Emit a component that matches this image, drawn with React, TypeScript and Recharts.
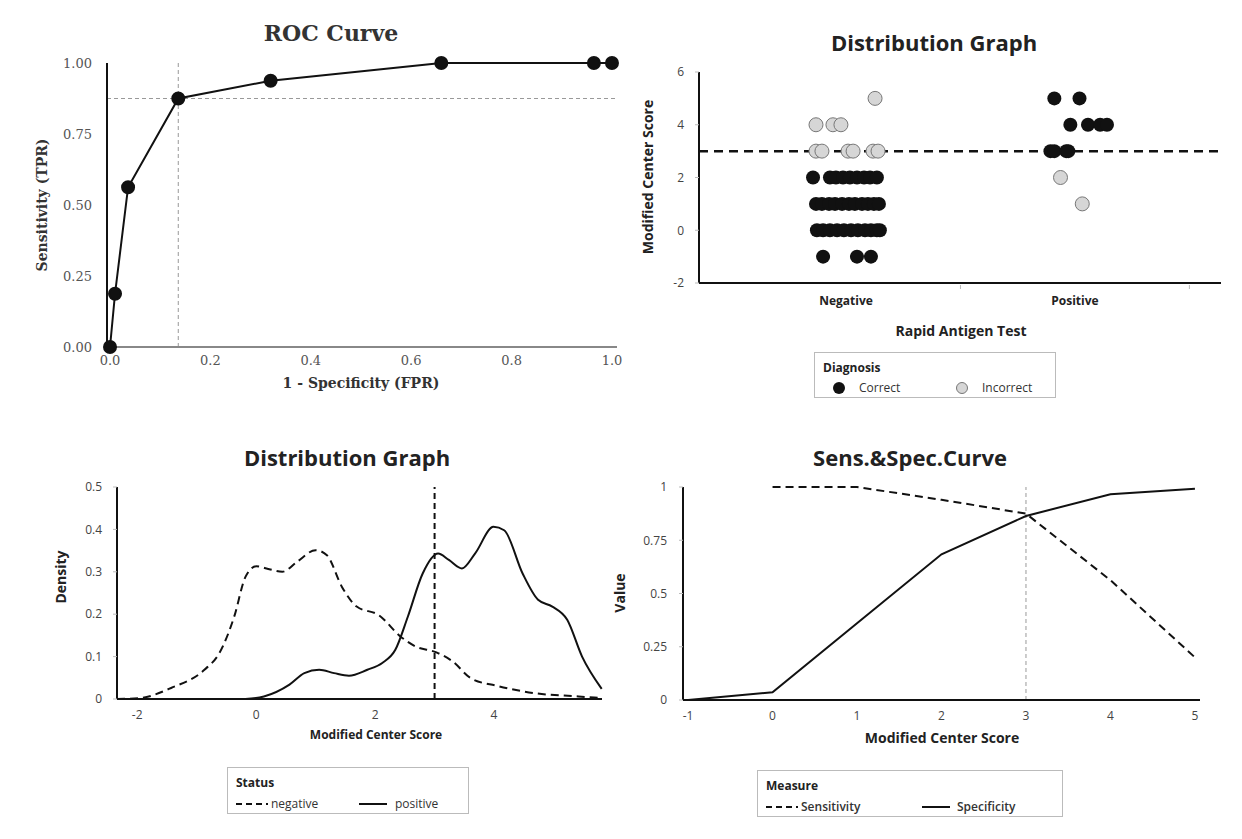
import React from 'react';
import { LineChart, Line, XAxis, YAxis, ReferenceLine, ScatterChart, Scatter } from 'recharts';

const SANS = '"Open Sans", "DejaVu Sans", sans-serif';
const SERIF = '"DejaVu Serif", serif';

// ROC curve
const rocFpr = [0, 0.01, 0.036, 0.136, 0.32, 0.66, 0.964, 1];
const rocTpr = [0, 0.1875, 0.5625, 0.875, 0.9375, 1, 1, 1];
const rocXTicks = [0, 0.2, 0.4, 0.6, 0.8, 1];
const rocYTicks = [0, 0.25, 0.5, 0.75, 1];
const cutFpr = 0.136;
const cutTpr = 0.875;

// distribution (dot) graph: [jitter within category, score]
const testCategories = ['Negative', 'Positive'];
const scoreTicks = [-2, 0, 2, 4, 6];
const cutScore = 3;
const negativeCorrect: [number, number][] = [
  [-0.144, 2], [-0.07, 2], [-0.044, 2], [-0.013, 2], [0.017, 2], [0.048, 2], [0.079, 2], [0.105, 2], [0.135, 2],
  [-0.131, 1], [-0.105, 1], [-0.074, 1], [-0.048, 1], [-0.017, 1], [0.013, 1], [0.039, 1], [0.07, 1], [0.096, 1], [0.122, 1], [0.144, 1],
  [-0.127, 0], [-0.1, 0], [-0.07, 0], [-0.039, 0], [-0.009, 0], [0.022, 0], [0.052, 0], [0.083, 0], [0.109, 0], [0.135, 0], [0.148, 0],
  [-0.1, -1], [0.048, -1], [0.109, -1],
];
const negativeIncorrect: [number, number][] = [
  [0.127, 5],
  [-0.131, 4], [-0.057, 4], [-0.022, 4],
  [-0.131, 3], [-0.105, 3], [0.009, 3], [0.031, 3], [0.118, 3], [0.14, 3],
];
const positiveCorrect: [number, number][] = [
  [-0.09, 5], [0.02, 5],
  [-0.02, 4], [0.057, 4], [0.11, 4], [0.14, 4],
  [-0.107, 3], [-0.09, 3], [-0.038, 3], [-0.029, 3],
];
const positiveIncorrect: [number, number][] = [
  [-0.063, 2], [0.032, 1],
];

// density graph: [score, density]
const negativeDensity: [number, number][] = [
  [-2.34, 0], [-1.96, 0.002], [-1.43, 0.026], [-0.87, 0.069], [-0.62, 0.108], [-0.37, 0.194], [-0.18, 0.288],
  [0.0, 0.313], [0.22, 0.306], [0.44, 0.3], [0.69, 0.324], [1.0, 0.351], [1.19, 0.339], [1.44, 0.265],
  [1.69, 0.218], [2.06, 0.198], [2.43, 0.147], [2.68, 0.124], [3.03, 0.11], [3.3, 0.089], [3.61, 0.049],
  [4.05, 0.031], [4.67, 0.014], [5.42, 0.006], [5.81, 0.002],
];
const positiveDensity: [number, number][] = [
  [-0.18, 0], [0.13, 0.006], [0.56, 0.034], [0.81, 0.061], [1.06, 0.069], [1.31, 0.061], [1.56, 0.055],
  [1.87, 0.069], [2.12, 0.085], [2.34, 0.116], [2.55, 0.194], [2.8, 0.296], [3.06, 0.343], [3.24, 0.328],
  [3.46, 0.308], [3.68, 0.343], [3.99, 0.406], [4.17, 0.398], [4.48, 0.296], [4.74, 0.234], [4.98, 0.218],
  [5.23, 0.187], [5.48, 0.1], [5.81, 0.024],
];
const densityXTicks = [-2, 0, 2, 4];
const densityYTicks = [0, 0.1, 0.2, 0.3, 0.4, 0.5];

// sensitivity & specificity curve
const thresholds = [-1, 0, 1, 2, 3, 4, 5];
const sensitivity = [null, 1, 1, 0.94, 0.875, 0.5625, 0.2];
const specificity = [0, 0.036, 0.36, 0.684, 0.864, 0.966, 0.992];
const valueTicks = [0, 0.25, 0.5, 0.75, 1];

const rocData = rocFpr.map((f, i) => ({ fpr: f, tpr: rocTpr[i] }));
const toPoints = (pairs: [number, number][], cat: number) => pairs.map(([j, s]) => ({ x: cat + j, y: s }));
const toXY = (pairs: [number, number][]) => pairs.map(([x, y]) => ({ x, y }));
const sensData = thresholds.map((t, i) => ({ t, sens: sensitivity[i], spec: specificity[i] }));

function Txt({ x, y, text, size = 12, weight = 400, font = SANS, color = '#222', align = 'center', rotate = false }: any) {
  const tx = align === 'center' ? '-50%' : '0';
  return (
    <div style={{
      position: 'absolute', left: x, top: y, whiteSpace: 'nowrap', lineHeight: 1,
      transform: `translate(${tx}, -50%)${rotate ? ' rotate(-90deg)' : ''}`,
      fontSize: size, fontWeight: weight, fontFamily: font, color,
    }}>{text}</div>
  );
}

const blackDot = (p: any) => <circle cx={p.cx} cy={p.cy} r={7} fill="#111" />;
const grayDot = (p: any) => <circle cx={p.cx} cy={p.cy} r={7} fill="#d6d6d6" stroke="#777" strokeWidth={1} />;

function CategoryTick(props: any) {
  const { x, y, payload } = props;
  const v = payload.value;
  if (v === 0 || v === 1) {
    return <text x={x} y={y} dy="0.71em" textAnchor="middle" fontSize={12} fontWeight={700} fontFamily={SANS} fill="#222">{testCategories[v]}</text>;
  }
  return <line x1={x} x2={x} y1={y - 11} y2={y - 7} stroke="#bbb" />;
}

const sansTick = { fill: '#444', fontSize: 12, fontFamily: SANS };
const serifTick = { fill: '#555', fontSize: 13, fontFamily: SERIF };

function LegendBox({ left, top, width, height, title, children }: any) {
  return (
    <div style={{ position: 'absolute', left, top, width, height, border: '1px solid #bbb', boxSizing: 'border-box' }}>
      <Txt x={8} y={15} text={title} weight={700} align="left" />
      {children}
    </div>
  );
}

const dashSample = (w: number) => (
  <svg width={w} height={6} style={{ display: 'block' }}>
    <line x1={0} x2={w} y1={3} y2={3} stroke="#111" strokeWidth={2} strokeDasharray="6 4" />
  </svg>
);
const solidSample = (w: number) => (
  <svg width={w} height={6} style={{ display: 'block' }}>
    <line x1={0} x2={w} y1={3} y2={3} stroke="#111" strokeWidth={2} />
  </svg>
);

export default function App() {
  return (
    <div style={{ position: 'absolute', left: 0, top: 0, width: 1242, height: 839, background: '#fff', overflow: 'hidden' }}>
      {/* ROC */}
      <div style={{ position: 'absolute', left: 0, top: 0 }}>
        <LineChart width={640} height={400} data={rocData} margin={{ top: 63, right: 23, bottom: 23, left: 0 }}>
          <XAxis type="number" dataKey="fpr" domain={[-0.006, 1.01]} ticks={rocXTicks} tickFormatter={(v: number) => v.toFixed(1)}
            height={30} axisLine={{ stroke: '#888', strokeWidth: 2 }} tickLine={false} tickSize={0} tickMargin={9} tick={serifTick} />
          <YAxis type="number" domain={[0, 1]} ticks={rocYTicks} tickFormatter={(v: number) => v.toFixed(2)}
            width={107} axisLine={{ stroke: '#111', strokeWidth: 2 }} tickLine={false} tickSize={0} tickMargin={15} tick={serifTick} />
          <ReferenceLine y={cutTpr} stroke="#999" strokeDasharray="4 3" />
          <ReferenceLine x={cutFpr} stroke="#999" strokeDasharray="4 3" />
          <Line type="linear" dataKey="tpr" stroke="#111" strokeWidth={2} dot={{ r: 6, fill: '#111', stroke: '#111' }} isAnimationActive={false} />
        </LineChart>
      </div>
      <Txt x={331} y={33} text="ROC Curve" size={22} weight={700} font={SERIF} color="#333" />
      <Txt x={361} y={383} text="1 - Specificity (FPR)" size={14} weight={700} font={SERIF} color="#333" />
      <Txt x={42} y={205} text="Sensitivity (TPR)" size={14} weight={700} font={SERIF} color="#333" rotate />

      {/* Dot distribution */}
      <div style={{ position: 'absolute', left: 620, top: 0 }}>
        <ScatterChart width={622} height={400} margin={{ top: 72, right: 21, bottom: 87, left: 0 }}>
          <XAxis type="number" dataKey="x" domain={[-0.642, 1.638]} ticks={[0, 0.5, 1, 1.5]} tick={<CategoryTick />}
            height={30} axisLine={{ stroke: '#111', strokeWidth: 2 }} tickLine={false} tickSize={6} tickMargin={7} />
          <YAxis type="number" dataKey="y" domain={[-2, 6]} ticks={scoreTicks} width={79}
            axisLine={{ stroke: '#111', strokeWidth: 2 }} tickLine={{ stroke: '#bbb' }} tickSize={4} tickMargin={11} tick={sansTick} />
          <ReferenceLine y={cutScore} stroke="#111" strokeWidth={2.5} strokeDasharray="9 6" />
          <Scatter data={toPoints(negativeCorrect, 0)} shape={blackDot} isAnimationActive={false} />
          <Scatter data={toPoints(positiveCorrect, 1)} shape={blackDot} isAnimationActive={false} />
          <Scatter data={toPoints(negativeIncorrect, 0)} shape={grayDot} isAnimationActive={false} />
          <Scatter data={toPoints(positiveIncorrect, 1)} shape={grayDot} isAnimationActive={false} />
        </ScatterChart>
      </div>
      <Txt x={934} y={42} text="Distribution Graph" size={22} weight={700} />
      <Txt x={961} y={331} text="Rapid Antigen Test" size={14} weight={700} />
      <Txt x={648} y={177} text="Modified Center Score" size={14} weight={700} rotate />
      <LegendBox left={814} top={352} width={242} height={46} title="Diagnosis">
        <svg width={14} height={14} style={{ position: 'absolute', left: 17, top: 28 }}><circle cx={7} cy={7} r={6} fill="#111" /></svg>
        <Txt x={44} y={35} text="Correct" color="#333" align="left" />
        <svg width={14} height={14} style={{ position: 'absolute', left: 140, top: 28 }}><circle cx={7} cy={7} r={5.5} fill="#d6d6d6" stroke="#777" /></svg>
        <Txt x={167} y={35} text="Incorrect" color="#333" align="left" />
      </LegendBox>

      {/* Density */}
      <div style={{ position: 'absolute', left: 0, top: 420 }}>
        <LineChart width={640} height={419} margin={{ top: 67, right: 38, bottom: 110, left: 0 }}>
          <XAxis type="number" dataKey="x" domain={[-2.336, 5.815]} ticks={densityXTicks}
            height={30} axisLine={{ stroke: '#111', strokeWidth: 2 }} tickLine={false} tickSize={6} tickMargin={5} tick={sansTick} />
          <YAxis type="number" dataKey="y" domain={[0, 0.5]} ticks={densityYTicks} width={117}
            axisLine={{ stroke: '#111', strokeWidth: 2 }} tickLine={{ stroke: '#bbb' }} tickSize={4} tickMargin={11} tick={sansTick} />
          <ReferenceLine x={cutScore} stroke="#111" strokeWidth={2} strokeDasharray="6 4" />
          <Line data={toXY(negativeDensity)} type="monotone" dataKey="y" stroke="#111" strokeWidth={2} strokeDasharray="8 5" dot={false} isAnimationActive={false} />
          <Line data={toXY(positiveDensity)} type="monotone" dataKey="y" stroke="#111" strokeWidth={2} dot={false} isAnimationActive={false} />
        </LineChart>
      </div>
      <Txt x={347} y={457} text="Distribution Graph" size={22} weight={700} />
      <Txt x={376} y={735} text="Modified Center Score" size={12} weight={700} />
      <Txt x={61} y={577} text="Density" size={14} weight={700} rotate />
      <LegendBox left={227} top={767} width={242} height={47} title="Status">
        <div style={{ position: 'absolute', left: 8, top: 33 }}>{dashSample(32)}</div>
        <Txt x={43} y={36} text="negative" color="#333" align="left" />
        <div style={{ position: 'absolute', left: 131, top: 33 }}>{solidSample(28)}</div>
        <Txt x={167} y={36} text="positive" color="#333" align="left" />
      </LegendBox>

      {/* Sens & Spec */}
      <div style={{ position: 'absolute', left: 620, top: 420 }}>
        <LineChart width={622} height={419} data={sensData} margin={{ top: 67, right: 42, bottom: 109, left: 0 }}>
          <XAxis type="number" dataKey="t" domain={[-1.06, 5.06]} ticks={thresholds}
            height={30} axisLine={{ stroke: '#111', strokeWidth: 2 }} tickLine={false} tickSize={6} tickMargin={5} tick={sansTick} />
          <YAxis type="number" domain={[0, 1]} ticks={valueTicks} width={63}
            axisLine={{ stroke: '#111', strokeWidth: 2 }} tickLine={{ stroke: '#bbb' }} tickSize={4} tickMargin={12} tick={sansTick} />
          <ReferenceLine x={cutScore} stroke="#999" strokeDasharray="4 3" />
          <Line type="linear" dataKey="sens" stroke="#111" strokeWidth={2} strokeDasharray="8 5" dot={false} isAnimationActive={false} />
          <Line type="linear" dataKey="spec" stroke="#111" strokeWidth={2} dot={false} isAnimationActive={false} />
        </LineChart>
      </div>
      <Txt x={910} y={457} text="Sens.&Spec.Curve" size={22} weight={700} />
      <Txt x={942} y={738} text="Modified Center Score" size={14} weight={700} />
      <Txt x={620} y={593} text="Value" size={14} weight={700} rotate />
      <LegendBox left={757} top={770} width={306} height={47} title="Measure">
        <div style={{ position: 'absolute', left: 8, top: 33 }}>{dashSample(32)}</div>
        <Txt x={43} y={36} text="Sensitivity" weight={600} color="#333" align="left" />
        <div style={{ position: 'absolute', left: 164, top: 33 }}>{solidSample(28)}</div>
        <Txt x={199} y={36} text="Specificity" weight={600} color="#333" align="left" />
      </LegendBox>
    </div>
  );
}
